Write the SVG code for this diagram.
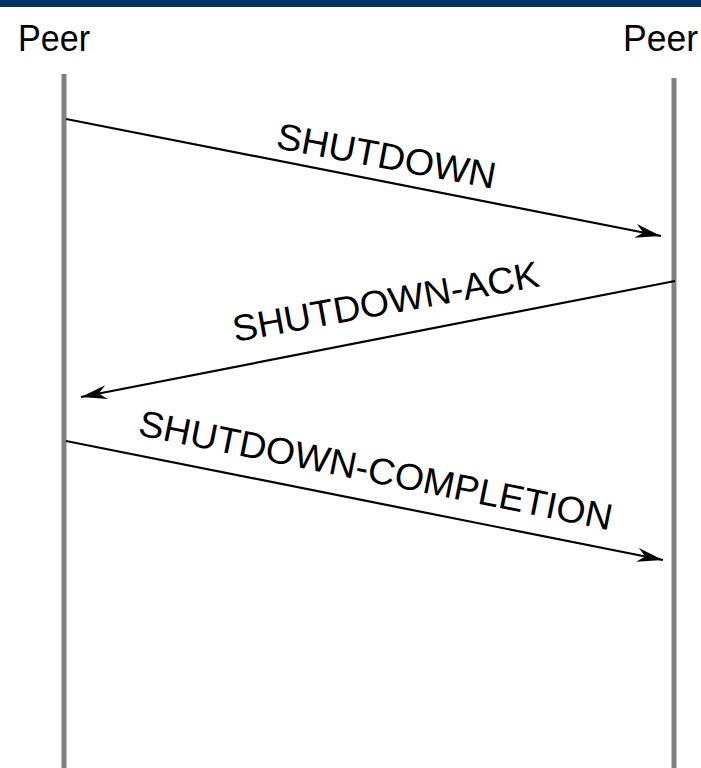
<svg xmlns="http://www.w3.org/2000/svg" width="701" height="768" viewBox="0 0 701 768">
<style>
.lbl{font-family:"Liberation Sans",Arial,sans-serif;font-size:37px;fill:#000}
.life{stroke:#808080;stroke-width:5;fill:none}
.msg{stroke:#000;stroke-width:2.2;fill:none;marker-end:url(#ah)}
</style>
<defs>
<marker id="ah" markerUnits="userSpaceOnUse" viewBox="-27 -9 29 18" refX="0" refY="0" markerWidth="29" markerHeight="18" orient="auto">
<path d="M0,0 L-26,-7 L-18,0 L-26,7 Z" fill="#000"/>
</marker>
</defs>
<rect x="0" y="0" width="701" height="7" fill="#003468"/>
<g id="peerA">
<text class="lbl" x="18" y="51" font-size="40" textLength="72" lengthAdjust="spacingAndGlyphs">Peer</text>
<line class="life" x1="64" y1="74" x2="64" y2="768"/>
</g>
<g id="peerB">
<text class="lbl" x="623" y="51" font-size="40" textLength="75" lengthAdjust="spacingAndGlyphs">Peer</text>
<line class="life" x1="674" y1="78" x2="674" y2="768"/>
</g>
<g id="connectors">
<line class="msg" x1="66" y1="119" x2="661" y2="236"/>
<line class="msg" x1="675" y1="281" x2="81" y2="397"/>
<line class="msg" x1="66" y1="441" x2="663" y2="560"/>
<text class="lbl" transform="translate(275,148) rotate(10.6)" textLength="222" lengthAdjust="spacingAndGlyphs">SHUTDOWN</text>
<text class="lbl" transform="translate(235,342) rotate(-10.3)" textLength="311" lengthAdjust="spacingAndGlyphs">SHUTDOWN-ACK</text>
<text class="lbl" transform="translate(137,435) rotate(11.4)" textLength="482" lengthAdjust="spacingAndGlyphs">SHUTDOWN-COMPLETION</text>
</g>
</svg>
